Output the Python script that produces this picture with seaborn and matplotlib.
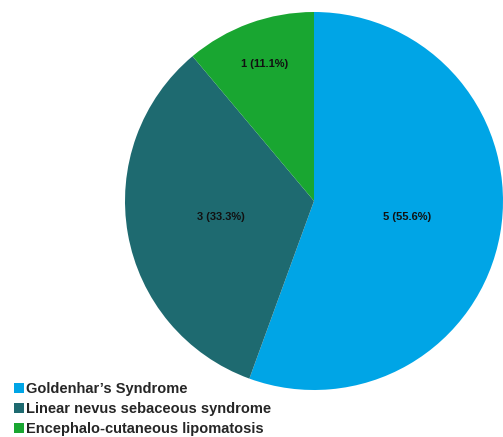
import matplotlib
matplotlib.use('Agg')
import matplotlib.pyplot as plt
import seaborn as sns
import numpy as np
from matplotlib.lines import Line2D

labels = ["Goldenhar\u2019s Syndrome", 'Linear nevus sebaceous syndrome', 'Encephalo-cutaneous lipomatosis']
counts = [5, 3, 1]
colors = ['#00A5E6', '#1E6A70', '#19A631']

sns.set_theme(style='white')
plt.rcParams['font.family'] = ['Liberation Sans', 'DejaVu Sans']

fig = plt.figure(figsize=(5.03, 4.37), dpi=100)
ax = fig.add_axes([125 / 503, 47 / 437, 378 / 503, 378 / 437])

wedges, _ = ax.pie(counts, colors=colors, startangle=90, counterclock=False,
                   radius=1.0, wedgeprops=dict(linewidth=0))
ax.set_xlim(-1, 1)
ax.set_ylim(-1, 1)
ax.set_aspect('equal')

total = sum(counts)
dists = [0.5, 0.5, 0.77]
for w, c, d in zip(wedges, counts, dists):
    ang = np.deg2rad((w.theta1 + w.theta2) / 2)
    ax.text(d * np.cos(ang), d * np.sin(ang), f'{c} ({c / total * 100:.1f}%)',
            ha='center', va='center', fontsize=8, fontweight='bold',
            color='#111111')

handles = [Line2D([], [], marker='s', linestyle='none', markersize=6.5,
                  markerfacecolor=col, markeredgewidth=0) for col in colors]
fig.legend(handles, labels, loc='lower left', bbox_to_anchor=(0.005, -0.022),
           frameon=False, prop=dict(size=10.5, weight='bold'),
           handletextpad=0.1, labelspacing=0.42, handlelength=0.8,
           borderaxespad=0.3)

fig.savefig('out.png', dpi=100)
